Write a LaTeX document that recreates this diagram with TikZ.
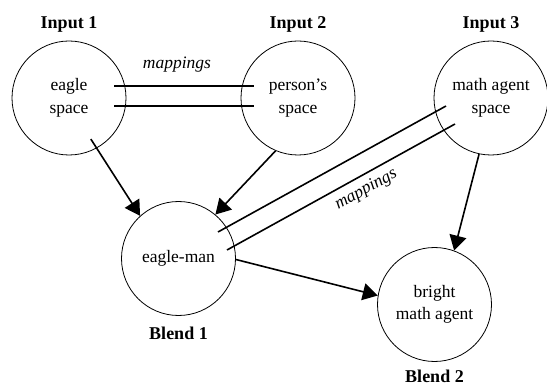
\documentclass[tikz,border=0pt]{standalone}
\usepackage{fontspec}
\setmainfont{Liberation Serif}
\usetikzlibrary{arrows.meta,positioning,calc}

\begin{document}
\begin{tikzpicture}[x=1pt,y=-1pt,
    space/.style={circle,draw,line width=0.8pt,minimum size=114pt,inner sep=0pt,
      align=center,font=\fontsize{17.5}{22.5}\selectfont},
    title/.style={inner sep=0pt,font=\fontsize{18}{22}\selectfont\bfseries},
    map/.style={line width=1.6pt},
    arr/.style={line width=1.6pt,-{Triangle[length=15pt,width=17pt]}},
    lbl/.style={inner sep=0pt,font=\fontsize{17.5}{22}\selectfont\itshape}]
  \useasboundingbox (0,0) rectangle (547,385);
  \node[space] (I1) at (69,98) {eagle\\space};
  \node[space] (I2) at (298,98) {person's\\space};
  \node[space] (I3) at (491,98) {math agent\\space};
  \node[space] (B1) at (178.5,258.5) {eagle-man};
  \node[space] (B2) at (434.5,304.5) {bright\\math agent};
  \node[title,above=7.8pt of I1] (T1) {Input 1};
  \node[title,above=7.8pt of I2] (T2) {Input 2};
  \node[title,above=7.8pt of I3] (T3) {Input 3};
  \node[title,below=11pt of B1] (T4) {Blend 1};
  \node[title,below=8pt of B2] (T5) {Blend 2};
  % mappings
  \draw[map] ([shift={(45pt,12pt)}]I1.center) -- ([shift={(-44pt,12pt)}]I2.center);
  \draw[map] ([shift={(45pt,-8pt)}]I1.center) -- ([shift={(-44pt,-8pt)}]I2.center);
  \node[lbl] (M1) at (177,64.5) {mappings};
  \draw[map] ([shift={(39.5pt,26.5pt)}]B1.center) -- ([shift={(-45pt,-8pt)}]I3.center);
  \draw[map] ([shift={(48.5pt,8.5pt)}]B1.center) -- ([shift={(-36pt,-26pt)}]I3.center)
    node[lbl,pos=0.58,sloped,below=6pt] (M2) {mappings};
  % projections
  \draw[arr] ($(I1.center)!0.81!(I1.-62)$) -- (B1.132);
  \draw[arr] (I2.247) -- (B1.50);
  \draw[arr] (I3.258) -- (B2.70);
  \draw[arr] (B1.-1) -- (B2.171);
\end{tikzpicture}
\end{document}
